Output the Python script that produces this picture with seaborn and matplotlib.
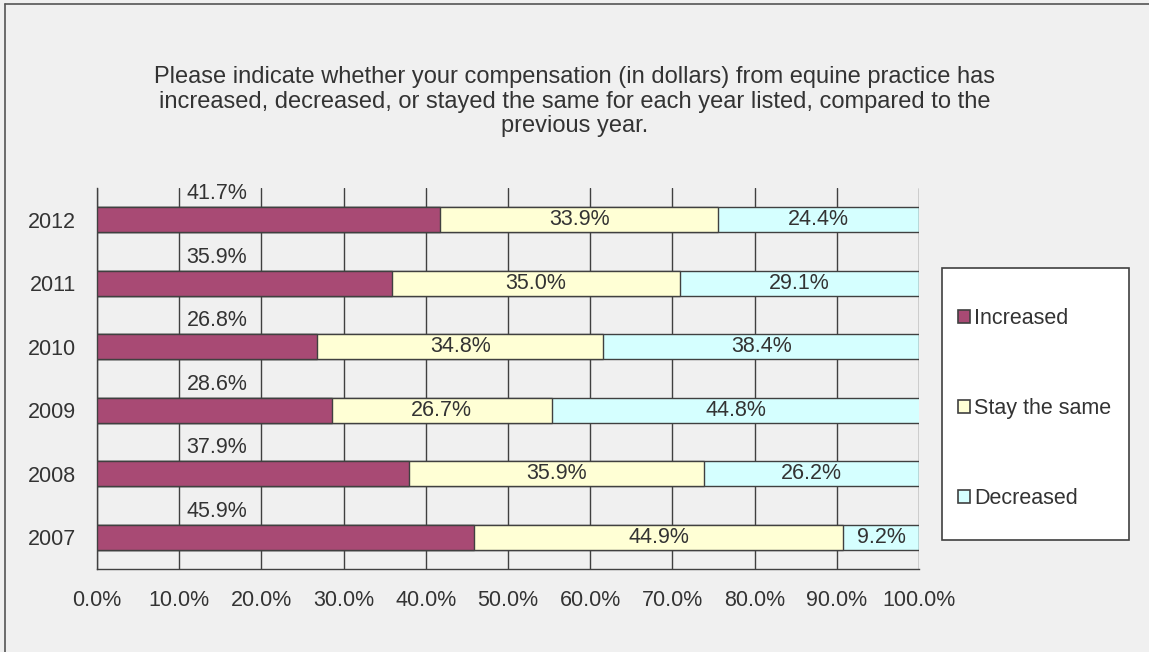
import matplotlib
matplotlib.use("Agg")
import matplotlib.pyplot as plt
from matplotlib.patches import Patch, Rectangle
from matplotlib.lines import Line2D
import seaborn as sns
import pandas as pd
import numpy as np

years = ["2012", "2011", "2010", "2009", "2008", "2007"]
increased = [41.7, 35.9, 26.8, 28.6, 37.9, 45.9]
stay_same = [33.9, 35.0, 34.8, 26.7, 35.9, 44.9]
decreased = [24.4, 29.1, 38.4, 44.8, 26.2, 9.2]
x_ticks = [0, 10, 20, 30, 40, 50, 60, 70, 80, 90, 100]
series_names = ["Increased", "Stay the same", "Decreased"]
title = ("Please indicate whether your compensation (in dollars) from equine practice has\n"
         "increased, decreased, or stayed the same for each year listed, compared to the\n"
         "previous year.")

c_inc = "#A84A74"
c_same = "#FFFFD5"
c_dec = "#D5FFFF"
edge = "#404040"
txt = "#333333"
bg = "#F0F0F0"
fs = 15.5

sns.set_style("white")
plt.rcParams["font.family"] = ["Liberation Sans", "DejaVu Sans"]

df = pd.DataFrame({"year": years, "inc": increased, "same": stay_same, "dec": decreased})
df["cum_same"] = df["inc"] + df["same"]
df["cum_dec"] = df["cum_same"] + df["dec"]

fig = plt.figure(figsize=(11.49, 6.52), dpi=100, facecolor=bg)
ax = fig.add_axes([97 / 1149, 1 - 569 / 652, 822 / 1149, 381 / 652])
ax.set_facecolor(bg)

for col, color in [("cum_dec", c_dec), ("cum_same", c_same), ("inc", c_inc)]:
    sns.barplot(data=df, x=col, y="year", order=years, orient="h", color=color,
                saturation=1, width=0.40, edgecolor=edge, linewidth=1.0, ax=ax, zorder=3)

ax.set_xlim(0, 100)
ax.set_ylim(5.5, -0.5)
ax.set_xticks(x_ticks)
ax.set_xticklabels([f"{v:.1f}%" for v in x_ticks], fontsize=fs, color=txt)
ax.set_yticks(range(len(years)))
ax.set_yticklabels(years, fontsize=fs, color=txt)
ax.set_yticks(np.arange(-0.5, len(years) + 0.5, 1), minor=True)
ax.tick_params(axis="y", which="major", length=0, pad=15)
ax.tick_params(axis="y", which="minor", length=5, width=1, color=edge, direction="out")
ax.tick_params(axis="x", which="major", length=5, width=1, color=edge, direction="out", pad=10)
ax.set_xlabel("")
ax.set_ylabel("")
ax.grid(axis="x", color=edge, linewidth=1.0, zorder=0)
ax.set_axisbelow(True)
for s in ["top", "right"]:
    ax.spines[s].set_visible(False)
for s in ["left", "bottom"]:
    ax.spines[s].set_color(edge)
    ax.spines[s].set_linewidth(1.0)

for i, y in enumerate(years):
    ax.text(14.6, i - 0.41, f"{increased[i]:.1f}%", ha="center", va="center",
            fontsize=fs, color=txt, zorder=5)
    ax.text(increased[i] + stay_same[i] / 2, i, f"{stay_same[i]:.1f}%", ha="center",
            va="center", fontsize=fs, color=txt, zorder=5)
    ax.text(increased[i] + stay_same[i] + decreased[i] / 2, i, f"{decreased[i]:.1f}%",
            ha="center", va="center", fontsize=fs, color=txt, zorder=5)

# legend box
fig.add_artist(Rectangle((942 / 1149, 1 - 540 / 652), 187 / 1149, 272 / 652,
                         transform=fig.transFigure, facecolor="white",
                         edgecolor=edge, linewidth=1.2, zorder=1))
handles = [Patch(facecolor=c, edgecolor=edge, linewidth=1.2) for c in (c_inc, c_same, c_dec)]
leg = fig.legend(handles, series_names, loc="upper left",
                 bbox_to_anchor=(958 / 1149, 1 - 308 / 652),
                 frameon=False, fontsize=fs, handlelength=0.56,
                 handleheight=0.56, handletextpad=0.2, labelspacing=3.2,
                 borderpad=0, borderaxespad=0)
leg.set_zorder(2)
for t in leg.get_texts():
    t.set_color(txt)

fig.text(0.5, 1 - 66 / 652, title, ha="center", va="top", fontsize=17,
         color=txt, linespacing=1.16)

fig.add_artist(Line2D([5 / 1149, 5 / 1149], [0, 1 - 4 / 652], transform=fig.transFigure,
                      color="#555555", linewidth=1.2))
fig.add_artist(Line2D([5 / 1149, 1], [1 - 4 / 652, 1 - 4 / 652], transform=fig.transFigure,
                      color="#555555", linewidth=1.2))

fig.savefig("out.png", dpi=100, facecolor=bg)
